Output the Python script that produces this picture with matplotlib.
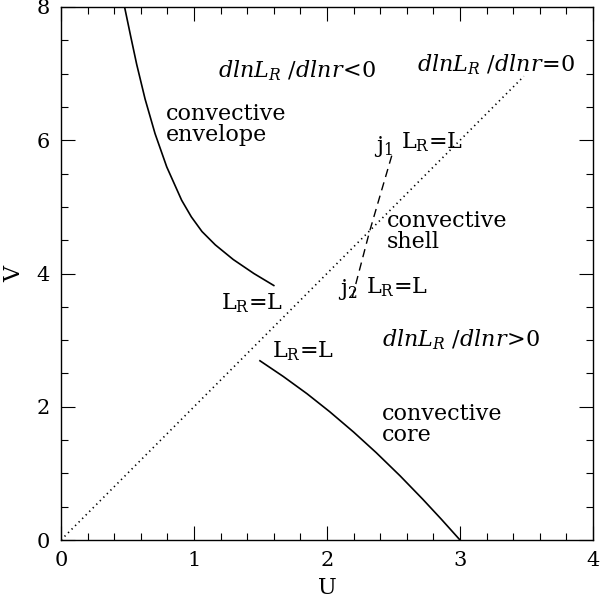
import matplotlib
matplotlib.use("Agg")
import matplotlib.pyplot as plt
from matplotlib.ticker import MultipleLocator

plt.rcParams['font.family'] = ['DejaVu Serif']
plt.rcParams['mathtext.fontset'] = 'dejavuserif'

# data
env_u = [0.478, 0.524, 0.569, 0.632, 0.707, 0.795, 0.907, 0.98, 1.06, 1.16, 1.295, 1.45, 1.60]
env_v = [8.0, 7.56, 7.14, 6.62, 6.10, 5.60, 5.10, 4.85, 4.63, 4.43, 4.21, 4.00, 3.82]
core_u = [1.496, 1.67, 1.85, 2.02, 2.20, 2.37, 2.55, 2.72, 2.86, 3.0]
core_v = [2.69, 2.456, 2.195, 1.926, 1.62, 1.311, 0.962, 0.612, 0.311, 0.0]
shell_u = [2.19, 2.32, 2.49]
shell_v = [3.64, 4.63, 5.79]
diag_u = [0.0, 3.48]
diag_v = [0.0, 6.96]

fig = plt.figure(figsize=(6, 6), dpi=100)
ax = fig.add_axes([61/600, 60/600, 532/600, 533/600])

ax.plot(env_u, env_v, color='black', lw=1.2)
ax.plot(core_u, core_v, color='black', lw=1.2)
ax.plot(shell_u, shell_v, color='black', lw=1.0, dashes=(6, 4))
ax.plot(diag_u, diag_v, color='black', lw=1.2, linestyle=(0, (0.8, 2.2)))

ax.set_xlim(0, 4)
ax.set_ylim(0, 8)
ax.xaxis.set_major_locator(MultipleLocator(1))
ax.xaxis.set_minor_locator(MultipleLocator(0.2))
ax.yaxis.set_major_locator(MultipleLocator(2))
ax.yaxis.set_minor_locator(MultipleLocator(0.5))
ax.tick_params(which='both', direction='in', top=True, right=True, width=0.8, labelsize=15, pad=8)
ax.tick_params(which='major', length=10)
ax.tick_params(which='minor', length=5)
for s in ax.spines.values():
    s.set_linewidth(1.0)

ax.set_xlabel('U', fontsize=16, labelpad=5)
ax.set_ylabel('V', fontsize=16, labelpad=8)

fs = 16
ax.text(1.18, 7.04, r'$dlnL_R\ /dlnr\!<\!0$', fontsize=fs, va='center', ha='left')
ax.text(2.68, 7.14, r'$dlnL_R\ /dlnr\!=\!0$', fontsize=fs, va='center', ha='left')
ax.text(2.41, 3.0, r'$dlnL_R\ /dlnr\!>\!0$', fontsize=fs, va='center', ha='left')
ax.text(0.79, 6.24, 'convective\nenvelope', fontsize=fs, va='center', ha='left', linespacing=0.95)
ax.text(2.45, 4.63, 'convective\nshell', fontsize=fs, va='center', ha='left', linespacing=0.95)
ax.text(2.41, 1.73, 'convective\ncore', fontsize=fs, va='center', ha='left', linespacing=0.95)
ax.text(1.20, 3.56, r'L$_\mathrm{R}$=L', fontsize=fs, va='center', ha='left')
ax.text(1.59, 2.83, r'L$_\mathrm{R}$=L', fontsize=fs, va='center', ha='left')
ax.text(2.35, 5.9, r'j$_1$', fontsize=fs, va='center', ha='left')
ax.text(2.56, 5.97, r'L$_\mathrm{R}$=L', fontsize=fs, va='center', ha='left')
ax.text(2.08, 3.76, r'j$_2$', fontsize=fs, va='center', ha='left')
ax.text(2.29, 3.79, r'L$_\mathrm{R}$=L', fontsize=fs, va='center', ha='left')

fig.savefig('out.png', dpi=100)
